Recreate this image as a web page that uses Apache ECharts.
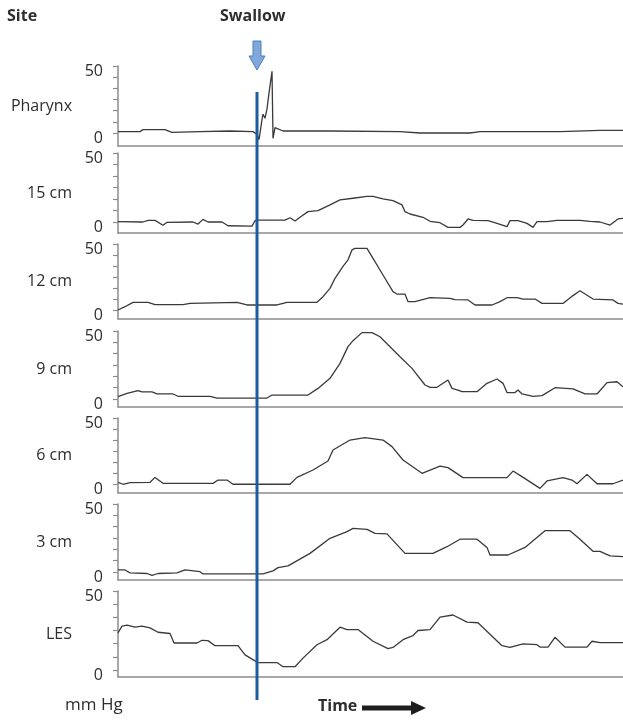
<!DOCTYPE html>
<html><head><meta charset="utf-8">
<script src="https://cdn.jsdelivr.net/npm/echarts@6/dist/echarts.min.js"></script>
<style>html,body{margin:0;padding:0;background:#fff}#c{width:623px;height:721px}</style>
</head><body><div id="c"></div>
<script>
// ---- data ----
const sites = ['Pharynx', '15 cm', '12 cm', '9 cm', '6 cm', '3 cm', 'LES'];
const yTickLabels = [0, 50];
const yMax = 50;
const timeMax = 101;
const swallowTime = 27.8;

const pharynx = [[0,1],[4.4,1],[5,2.5],[9.4,2.5],[10.8,0.5],[16.4,1],[22.4,1.5],[27,1],[27.8,-1],[28.2,-5],[28.8,10],[29,14],[29.4,11],[29.8,18],[30.2,30],[30.8,46],[31,-4],[31.4,4],[31.8,3],[33,1.5],[42.4,1.5],[56.4,1],[60.4,0],[70.4,0],[72.4,1],[88.4,1],[96.4,2],[101,2]];
const cm15 = [[0,0.2],[5,0],[6,1.2],[7.4,1.2],[9,-2.4],[9.8,-0.2],[15,0],[16,-1.5],[17,1.9],[18,0],[20.8,0],[22,-2.7],[26.8,-3],[27.4,0.9],[28,1.4],[33.4,1.4],[34.4,3.1],[35.4,0.7],[36.4,3.4],[38,7.5],[40,8.2],[42.4,12.4],[44.4,16],[47,17.2],[49.8,18.5],[51,18.5],[53,16.8],[55,15.5],[56.8,12.4],[57.4,7.5],[58.4,5.8],[61,3.4],[62.4,0.5],[64.4,-0.5],[66,-3.9],[68.4,-3.9],[69,-2.2],[70,2.2],[71,1.2],[74,1],[75.8,-1],[77.8,-3.4],[78.4,1],[80,1],[81.8,-1],[83,-3.9],[83.8,0.2],[85.8,0.2],[87.8,1.2],[92.4,1.2],[94.4,0.5],[96.4,0],[98.4,-2.2],[100,2.2],[101,2.7]];
const cm12 = [[0,0],[1.4,2.5],[3,5.8],[6,5.8],[7.4,4],[13,4],[14.4,5],[23.8,5.8],[25.8,3.8],[31.8,3.8],[33.8,5.8],[39.8,5.8],[41,10.1],[42.4,16.4],[43.4,24],[45,33],[46,38],[46.8,45.5],[47.4,46.7],[49.8,46.7],[51,39.1],[53,26.5],[55,13.9],[55.8,12.1],[57.4,12.1],[58,6.3],[59.4,6.3],[62.4,9.3],[66.4,8.8],[67.4,7.8],[70,7.6],[71.4,3.8],[74.8,3.8],[76.4,6.3],[77.8,9.3],[79.8,9.3],[81,8.3],[83.4,8.3],[84.8,5],[89,5],[91,10.9],[92.4,14.6],[95,8.3],[99,7.6],[100,5],[101,4.5]];
const cm9 = [[0,1.7],[1.8,4.2],[4,6.2],[4.8,5.2],[6.8,5.2],[7.8,3.7],[11,3.7],[12,2],[18.4,2],[19.8,0.7],[29.8,0.7],[30.8,2.9],[38,2.9],[40,7.8],[42.4,15.2],[44.4,26.2],[46,38.5],[47,42.9],[48.8,48.8],[50.8,48.8],[52.4,45.8],[56.4,31.1],[58.8,22.5],[61.4,10.3],[62.4,8.6],[63.8,8.6],[66,14],[66.8,7.8],[68,6.6],[68.8,5.4],[71.8,5.4],[73.8,11.5],[75.8,14.7],[77,11.5],[77.8,4.7],[79.4,4.7],[80,6.6],[80.8,3.7],[83,2],[84.8,2.5],[87.4,8.3],[91,7.4],[93.4,3.7],[95.8,3.7],[97.8,12],[99.8,12.7],[101,9]];
const cm6 = [[0,1.3],[1,-0.2],[2.4,1],[6.4,1.3],[7.4,5],[9,0.5],[19,0.5],[20,3],[21.8,3],[23,-0.2],[34.4,-0.2],[35.8,5],[39,10.6],[42,17.4],[43,25.8],[46.4,33.3],[49.4,35.1],[53,33.3],[54.8,28.3],[57,18.2],[60.8,8.1],[64.4,13.6],[66,12.4],[69,4.8],[77.8,4.8],[79,9.8],[80.8,5.6],[84.4,-3.3],[85.8,2.3],[89,4.8],[90.8,3],[91.8,0.2],[93.8,7.3],[95.8,0.2],[99,0.2],[101,3]];
const cm3 = [[0,1.5],[1.4,1.5],[2.4,-0.6],[5.8,-1.1],[6.8,-2.5],[8,-1.1],[11.8,-0.6],[13.4,1.5],[16.4,0.2],[17,-1.4],[29,-1.4],[31,0.8],[32,3.2],[34,4.5],[38.4,13.7],[42.4,24.8],[45.8,29.7],[47,32.1],[49.8,31.4],[51.4,28.4],[53.8,28],[57.4,13.7],[63,13.7],[65.8,18.6],[68.4,24.1],[71.8,24.1],[73.8,18.1],[74.4,12.5],[78,12.5],[81.4,18.1],[85.4,30.4],[90.4,30.4],[92.4,24.1],[95,15.2],[96.4,15.2],[98.4,11.8],[101,11.3]];
const les = [[0,23.5],[0.8,27.8],[1.8,28.4],[3.4,27.1],[4.8,27.8],[6.4,26.7],[8,23.9],[10.4,23.1],[11.2,17.1],[15.8,17.1],[16.8,18.8],[18,18.6],[19.4,15.4],[24,15.4],[25.4,9.6],[27.4,5.8],[28,4.7],[31.8,4.7],[33,2.1],[35.4,2.1],[37,7.5],[39.8,16],[41.8,19.2],[44.4,27.1],[45.8,25.6],[48,25.6],[51,18.2],[54,13.5],[55,14.3],[57,19.2],[59,21.8],[60,25],[62.4,25.6],[64.4,33.5],[67,34.8],[69.8,30.3],[72,29.9],[76.8,15.4],[78.4,14.3],[81,16.5],[83.8,16],[84.4,14.5],[86,14.5],[87.4,20.7],[89.4,14.5],[93.8,14.5],[94.8,18.2],[96.4,17.3],[101,17.3]];
const traces = [pharynx, cm15, cm12, cm9, cm6, cm3, les];

// ---- layout (pixels) ----
const FONT = '"Open Sans", sans-serif';
const TXT = '#2e2e2e';
const AX = '#8c8c8c';
const y50 = [66, 153, 244, 331, 418, 504, 591];
const y0  = [133, 222, 310, 399, 484, 572, 670];
const yAx = [146, 233, 319, 407, 493, 580, 677];
const tickStep = yMax / 6;
const tickVals = [];
for (let k = 0; k <= 6; k++) tickVals.push(+(k * tickStep).toFixed(4));

const chart = echarts.init(document.getElementById('c'), null, {renderer: 'canvas'});
const grids = [], xAxes = [], yAxes = [], series = [];
sites.forEach((name, i) => {
  grids.push({left: 118, right: 0, top: y50[i], height: yAx[i] - y50[i]});
  xAxes.push({type: 'value', gridIndex: i, min: 0, max: timeMax,
    axisLine: {show: true, onZero: false, lineStyle: {color: AX, width: 1.5}},
    axisTick: {show: false}, axisLabel: {show: false}, splitLine: {show: false}});
  const minV = -(yAx[i] - y0[i]) / (y0[i] - y50[i]) * yMax;
  yAxes.push({type: 'value', gridIndex: i, min: minV, max: yMax,
    name: name, nameLocation: 'middle', nameRotate: 0, nameGap: 46,
    nameTextStyle: {fontFamily: FONT, fontSize: 16, color: TXT, align: 'right', padding: [0, 0, 6, 0]},
    axisLine: {show: true, lineStyle: {color: AX, width: 1.5}},
    axisTick: {show: true, length: 5, customValues: tickVals, lineStyle: {color: AX, width: 1.2}},
    axisLabel: {show: true, customValues: yTickLabels, margin: 15, fontFamily: FONT, fontSize: 16, color: TXT,
      verticalAlign: 'top', lineHeight: 10},
    splitLine: {show: false}});
  series.push({type: 'line', xAxisIndex: i, yAxisIndex: i, data: traces[i], showSymbol: false,
    symbol: 'none', smooth: false, lineStyle: {color: '#3a3a3a', width: 1.3}, silent: true, z: 2});
});

chart.setOption({animation: false, backgroundColor: '#fff', grid: grids, xAxis: xAxes, yAxis: yAxes, series: series});

const sx = chart.convertToPixel({gridIndex: 0}, [swallowTime, 0])[0];
chart.setOption({graphic: [
  {type: 'line', shape: {x1: sx, y1: 92, x2: sx, y2: 700}, style: {stroke: '#1d5c9e', lineWidth: 3}, z: 10},
  {type: 'polygon', shape: {points: [[sx-4,41],[sx+4,41],[sx+4,56],[sx+8,56],[sx,70],[sx-8,56],[sx-4,56]]},
    style: {fill: '#80a8da', stroke: '#4f7fbf', lineWidth: 1}, z: 10},
  {type: 'text', left: 7, top: 8, style: {text: 'Site', font: 'bold 16px ' + FONT, fill: TXT}},
  {type: 'text', left: 220, top: 8, style: {text: 'Swallow', font: 'bold 16px ' + FONT, fill: TXT}},
  {type: 'text', left: 65, top: 697, style: {text: 'mm Hg', font: '17px ' + FONT, fill: TXT}},
  {type: 'text', left: 318, top: 698, style: {text: 'Time', font: 'bold 16px ' + FONT, fill: TXT}},
  {type: 'polygon', shape: {points: [[362,705.5],[411,705.5],[411,701],[426,708],[411,715],[411,710.5],[362,710.5]]},
    style: {fill: '#1e1e1e'}}
]});
</script></body></html>
